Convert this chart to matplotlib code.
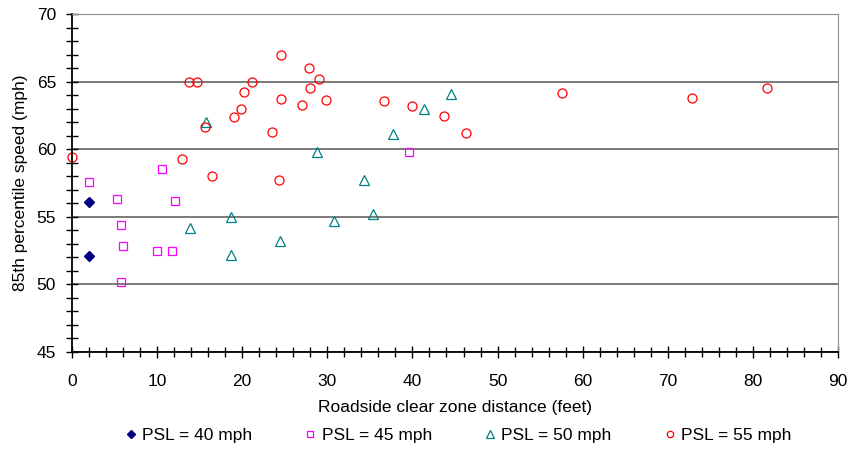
import matplotlib
matplotlib.use("Agg")
import matplotlib.pyplot as plt
from matplotlib.ticker import MultipleLocator

plt.rcParams['font.family'] = ['Liberation Sans', 'DejaVu Sans']

# PSL = 40 mph
x40 = [2.0, 2.0]
y40 = [56.1, 52.1]

# PSL = 45 mph
x45 = [2.0, 10.6, 5.3, 12.1, 5.8, 6.0, 10.0, 11.8, 5.8, 39.6]
y45 = [57.6, 58.5, 56.3, 56.2, 54.4, 52.85, 52.45, 52.5, 50.15, 59.8]

# PSL = 50 mph
x50 = [15.7, 28.8, 13.9, 18.7, 18.7, 24.4, 37.7, 41.3, 44.5, 34.3, 30.8, 35.4]
y50 = [62.0, 59.8, 54.15, 55.0, 52.2, 53.2, 61.15, 63.0, 64.1, 57.7, 54.7, 55.2]

# PSL = 55 mph
x55 = [0.0, 12.9, 13.7, 14.7, 21.2, 20.25, 19.9, 19.0, 15.6, 24.6, 24.5, 23.5, 27.9,
       28.0, 27.05, 29.0, 16.4, 24.3, 29.9, 36.7, 40.0, 43.75, 46.3, 57.6, 72.9, 81.6]
y55 = [59.45, 59.3, 65.0, 65.0, 65.0, 64.2, 63.0, 62.35, 61.65, 67.0, 63.7, 61.3, 66.0,
       64.5, 63.3, 65.2, 58.0, 57.75, 63.65, 63.55, 63.2, 62.45, 61.2, 64.15, 63.8, 64.5]

fig = plt.figure(figsize=(8.52, 4.51), dpi=100)
ax = fig.add_axes([72 / 852, 1 - 352 / 451, (838 - 72) / 852, (352 - 14) / 451])

ax.plot(x40, y40, 'D', ms=5.5, color='#000080', mec='#000080', label='PSL = 40 mph', clip_on=False)
ax.plot(x45, y45, 's', ms=6, mfc='none', mec='#FF00FF', mew=0.9, label='PSL = 45 mph', clip_on=False)
ax.plot(x50, y50, '^', ms=7.5, mfc='none', mec='#008080', mew=0.9, label='PSL = 50 mph', clip_on=False)
ax.plot(x55, y55, 'o', ms=6.5, mfc='none', mec='#FF0000', mew=0.9, label='PSL = 55 mph', clip_on=False)

ax.set_xlim(0, 90)
ax.set_ylim(45, 70)
ax.xaxis.set_major_locator(MultipleLocator(10))
ax.xaxis.set_minor_locator(MultipleLocator(2))
ax.yaxis.set_major_locator(MultipleLocator(5))
ax.yaxis.set_minor_locator(MultipleLocator(1))

ax.grid(axis='y', which='major', color='#707070', lw=1.3)
ax.set_axisbelow(True)
for side in ['top', 'right']:
    ax.spines[side].set_color('#909090')
for side in ['left', 'bottom']:
    ax.spines[side].set_color('black')
    ax.spines[side].set_linewidth(1.3)

ax.tick_params(axis='x', which='major', direction='inout', length=9, width=1, pad=11, labelsize=12.5)
ax.tick_params(axis='x', which='minor', direction='inout', length=7, width=1)
ax.tick_params(axis='y', which='major', direction='inout', length=9, width=1, pad=7, labelsize=12.5)
ax.tick_params(axis='y', which='minor', direction='inout', length=8, width=1)

ax.set_xlabel('Roadside clear zone distance (feet)', fontsize=12.5, labelpad=8)
ax.set_ylabel('85th percentile speed (mph)', fontsize=12.5, labelpad=6)

fig.legend(loc='center', bbox_to_anchor=(0.537, 0.035), ncol=4, frameon=False,
           fontsize=12.5, markerscale=0.7, handlelength=0.8, handletextpad=0.25,
           columnspacing=2.95)

fig.savefig('out.png', dpi=100)
